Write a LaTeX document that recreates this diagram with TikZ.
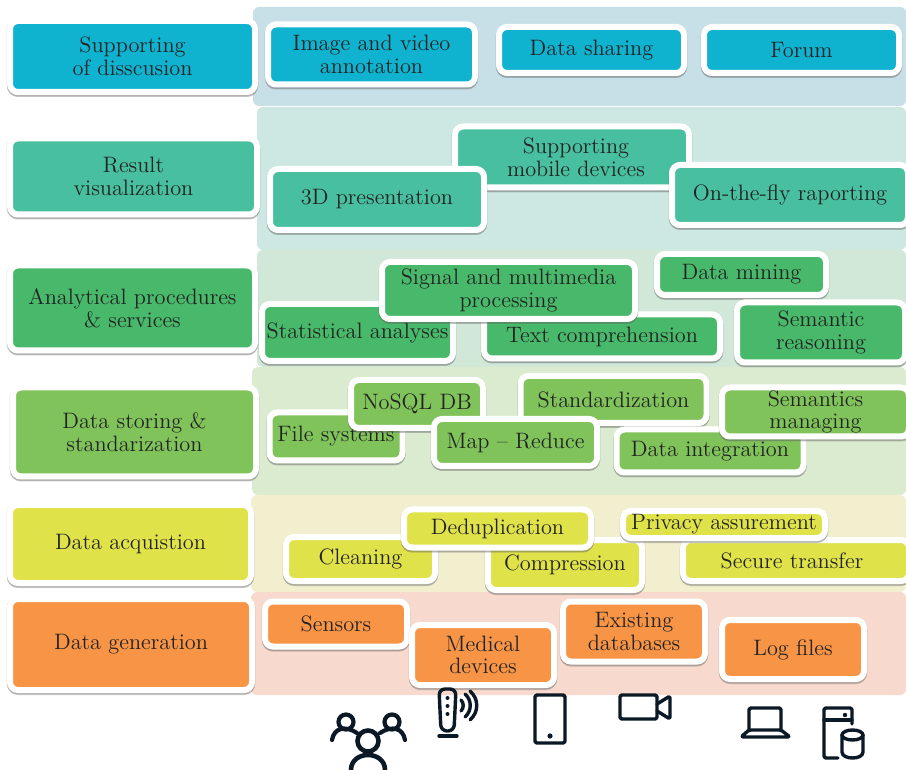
\documentclass[tikz,border=0pt]{standalone}
\usepackage{fix-cm}
\usetikzlibrary{shadows}
\definecolor{tonedark}{HTML}{222222}
\definecolor{iconink}{HTML}{0B1825}
\definecolor{blueC}{HTML}{0FB2CF}
\definecolor{tealC}{HTML}{48BF9F}
\definecolor{greenC}{HTML}{48B96B}
\definecolor{limeC}{HTML}{80C35B}
\definecolor{yellowC}{HTML}{E0E24A}
\definecolor{orangeC}{HTML}{F79446}
\definecolor{blueB}{RGB}{199,223,230}
\definecolor{tealB}{RGB}{205,232,226}
\definecolor{greenB}{RGB}{209,232,216}
\definecolor{limeB}{RGB}{219,235,208}
\definecolor{yellowB}{RGB}{242,239,207}
\definecolor{orangeB}{RGB}{247,218,205}
\tikzset{
    tile/.style={draw=white, line width=3pt, rounded corners=4pt, inner sep=0pt,
        align=center, text=tonedark, font=\fontsize{11.15}{11.3}\selectfont,
        drop shadow={shadow xshift=0pt, shadow yshift=-0.5pt, opacity=0.2, fill=black!70, draw=black!70, line width=3.4pt},
        drop shadow={shadow xshift=0pt, shadow yshift=-1pt, opacity=0.35, fill=black!60, draw=black!60, line width=3pt}},
    wh/.style 2 args={minimum width=#1*0.5pt+3pt, minimum height=#2*0.5pt+3pt},
    icon/.style={draw=iconink, line width=1.7pt, line cap=round, line join=round, rounded corners=0.8pt}
}
\begin{document}
\begin{tikzpicture}[x=0.5pt, y=-0.5pt]
    \useasboundingbox (0,0) rectangle (906,770);
    \begin{scope}
    \clip (0,0) rectangle (906,770);

    % Bands
    \fill[blueB, rounded corners=3pt] (253,7) rectangle (906,106);
    \fill[tealB, rounded corners=3pt] (257,107) rectangle (906,250);
    \fill[greenB, rounded corners=3pt] (257,250) rectangle (906,367);
    \fill[limeB, rounded corners=3pt] (252,367) rectangle (906,495);
    \fill[yellowB, rounded corners=3pt] (251,495) rectangle (906,592);
    \fill[orangeB, rounded corners=3pt] (251,592) rectangle (906,695);

    % Layers
    \node (support) at (132.5,56.5) [tile, fill=blueC, wh={239}{65}] {Supporting\\of disscusion};
    \node (result) at (133.5,176.5) [tile, fill=tealC, wh={241}{70}] {Result\\visualization};
    \node (analysis) at (132.5,308) [tile, fill=greenC, wh={239}{79}] {Analytical procedures\\\& services};
    \node (storing) at (134.5,432) [tile, fill=limeC, wh={237}{83}] {Data storing \&\\standarization};
    \node (acquire) at (130.5,544) [tile, fill=yellowC, wh={235}{72}] {Data acquistion};
    \node (generate) at (131,644.5) [tile, fill=orangeC, wh={236}{85}] {Data generation};

    % Discussion
    \node (annot) at (371.5,54.5) [tile, fill=blueC, wh={201}{54}] {Image and video\\annotation};
    \node (sharing) at (591.5,50) [tile, fill=blueC, wh={179}{40}] {Data sharing};
    \node (forum) at (801.5,50) [tile, fill=blueC, wh={189}{40}] {Forum};

    % Visualization
    \node (mobile) at (572,157) [tile, fill=tealC, wh={228}{55}] {\hspace*{4pt}Supporting\\\hspace*{4pt}mobile devices};
    \node (threed) at (377,199.5) [tile, fill=tealC, wh={208}{55}] {3D presentation};
    \node (onfly) at (790,195) [tile, fill=tealC, wh={230}{54}] {On-the-fly raporting};

    % Analytics
    \node (stats) at (357.5,332.5) [tile, fill=greenC, wh={185}{51}] {Statistical analyses};
    \node (textc) at (602,336.5) [tile, fill=greenC, wh={230}{38}] {Text comprehension};
    \node (signal) at (508.5,290.5) [tile, fill=greenC, wh={247}{51}] {Signal and multimedia\\processing};
    \node (mining) at (741.5,274.5) [tile, fill=greenC, wh={163}{35}] {Data mining};
    \node (reason) at (821,332.5) [tile, fill=greenC, wh={162}{54}] {Semantic\\reasoning};

    % Storing
    \node (files) at (336,436.5) [tile, fill=limeC, wh={127}{42}] {File systems};
    \node (nosql) at (417,404) [tile, fill=limeC, wh={126}{42}] {NoSQL DB};
    \node (standard) at (613.5,399.5) [tile, fill=limeC, wh={180}{41}] {Standardization};
    \node (integr) at (710,451) [tile, fill=limeC, wh={181}{37}] {Data integration};
    \node (mapred) at (515.5,442.5) [tile, fill=limeC, wh={157}{41}] {Map -- Reduce};
    \node (semman) at (815.5,412) [tile, fill=limeC, wh={181}{43}] {Semantics\\managing};

    % Acquisition
    \node (clean) at (360.5,559) [tile, fill=yellowC, wh={143}{38}] {Cleaning};
    \node (compr) at (565,565) [tile, fill=yellowC, wh={148}{44}] {Compression};
    \node (dedup) at (497.5,528.5) [tile, fill=yellowC, wh={181}{32}] {Deduplication};
    \node (secure) at (796,560.5) [tile, fill=yellowC, wh={220}{35}] {Secure transfer\hspace*{4pt}};
    \node (privacy) at (724,524.5) [tile, fill=yellowC, wh={196}{21}] {Privacy assurement};

    % Generation
    \node (sensors) at (336,624) [tile, fill=orangeC, wh={136}{39}] {Sensors};
    \node (medical) at (483,655) [tile, fill=orangeC, wh={136}{54}] {Medical\\devices};
    \node (existing) at (634,631.5) [tile, fill=orangeC, wh={136}{54}] {Existing\\databases};
    \node (logs) at (793,649.5) [tile, fill=orangeC, wh={136}{53}] {Log files};

    % People
    \draw[icon, line width=2.3pt] (368,741) circle (10.5);
    \draw[icon, line width=2.1pt] (346,722) circle (7.5);
    \draw[icon, line width=2.1pt] (392,722) circle (7.5);
    \draw[icon, line width=2.1pt] (332,740) .. controls (334,728) and (345,725) .. (357,733);
    \draw[icon, line width=2.1pt] (405,740) .. controls (403,728) and (392,725) .. (380,733);
    \draw[icon, line width=2.3pt] (351,770) .. controls (351,750) and (385,750) .. (385,770);

    % Router
    \draw[icon, rounded corners=3pt] (439,689) -- (456,689) -- (454,731) -- (441,731) -- cycle;
    \draw[icon] (439,736) -- (457,736);
    \fill[iconink] (447.5,698) circle (2);
    \fill[iconink] (447.5,706) circle (2);
    \fill[iconink] (447.5,714) circle (2);
    \draw[icon] (461,700) .. controls (464,703) and (464,708) .. (461,711);
    \draw[icon] (465,694) .. controls (472,700) and (472,711) .. (465,717);
    \draw[icon] (470,691) .. controls (479,699) and (479,712) .. (470,720);

    % Phone
    \draw[icon] (535,695) rectangle (565,743);
    \fill[iconink] (550,736) circle (2.6);

    % Camera
    \draw[icon] (620,695) rectangle (657,719);
    \draw[icon] (657,704) -- (670,696) -- (670,719) -- (657,711);

    % Laptop
    \draw[icon] (749,730) -- (749,708) -- (781,708) -- (781,730);
    \draw[icon] (749,730) -- (741,737) -- (790,737) -- (781,730) -- cycle;

    % Server
    \draw[icon] (852,724) -- (852,708) -- (824,708) -- (824,758) -- (838,758);
    \draw[icon] (824,720) -- (852,720);
    \fill[iconink] (845,715) circle (2.2);
    \draw[icon, rounded corners=0pt] (842,735) -- (842,752) .. controls (842,760) and (863,760) .. (863,752) -- (863,735);
    \draw[icon] (852.5,735) ellipse (10.5 and 5);
    \end{scope}
\end{tikzpicture}
\end{document}
